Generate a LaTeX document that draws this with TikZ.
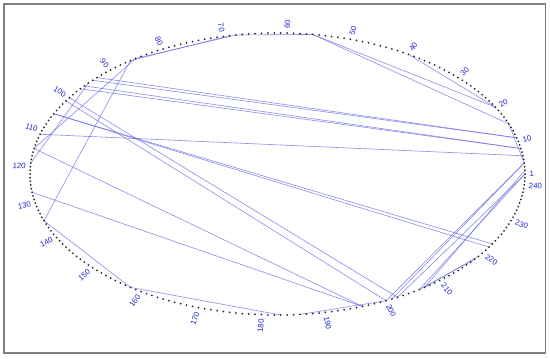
\documentclass[tikz,border=0pt]{standalone}
\usepackage{fontspec}
\setmainfont{Liberation Sans}
\definecolor{lbl}{RGB}{35,35,210}
\definecolor{chord}{RGB}{100,100,228}
\tikzset{
  dotmark/.style={fill=black!85},
  chordline/.style={draw=chord, line width=0.6pt, opacity=0.75},
  lblR/.style={text=lbl, font=\fontsize{7.8}{8}\selectfont, inner sep=0pt, anchor=west},
  lblL/.style={text=lbl, font=\fontsize{7.8}{8}\selectfont, inner sep=0pt, anchor=east},
  frameline/.style={draw=black!50, line width=1.3pt}
}
\begin{document}
\begin{tikzpicture}[x=1pt,y=-1pt]
\useasboundingbox (0,0) rectangle (550,359);
\draw[frameline] (4,4) rectangle (545.5,353);
\foreach \k in {1,...,242}{
  \pgfmathsetmacro\t{(\k-1)*1.487603}
  \coordinate (p\k) at ({277.5+247.5*cos(\t)},{174-141*sin(\t)});
}
\foreach \a/\b in {68/85,69/86,56/68,56/15,56/20,40/20,85/115,86/135,135/158,95/119,
  93/11,94/11,96/8,97/8,111/6,101/200,100/202,105/222,105/223,115/196,127/196,
  158/183,186/200,200/4,201/4,202/1,206/1,207/2,206/218,207/219,15/4}
  \draw[chordline] (p\a) -- (p\b);
\foreach \k in {1,...,242}
  \fill[dotmark] (p\k) circle (1.0pt);
\foreach \k in {1,10,20,30,40,50,60,190,200,210,220,230,240}{
  \pgfmathsetmacro\t{(\k-1)*1.487603}
  \node[lblR, rotate=\t] (l\k) at ({277.5+252*cos(\t)},{174-145.5*sin(\t)}) {\k};
}
\foreach \k in {70,80,90,100,110,120,130,140,150,160,170,180}{
  \pgfmathsetmacro\t{(\k-1)*1.487603}
  \node[lblL, rotate=\t-180] (l\k) at ({277.5+252*cos(\t)},{174-145.5*sin(\t)}) {\k};
}
\end{tikzpicture}
\end{document}
